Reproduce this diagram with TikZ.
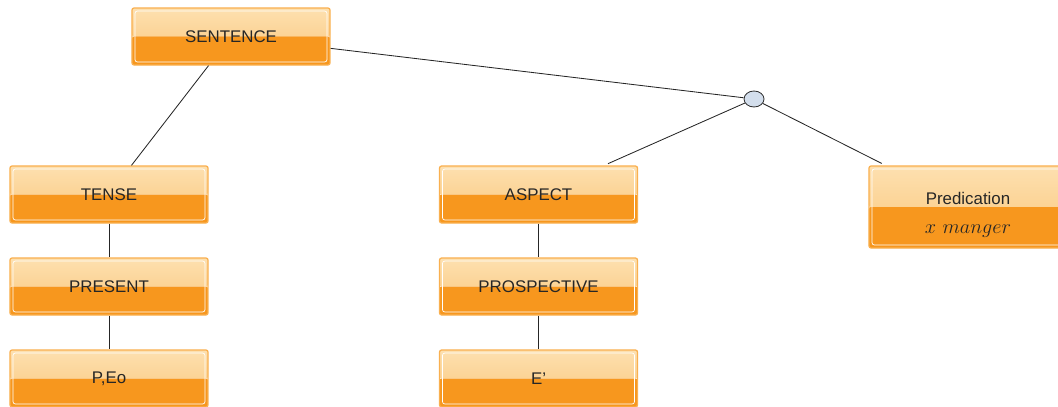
\documentclass[tikz,border=0pt]{standalone}
\usepackage{fontspec}
\setsansfont{Liberation Sans}
\usetikzlibrary{shapes.geometric}

\definecolor{boxedge}{HTML}{F9B050}
\definecolor{boxtop}{HTML}{FDE0B0}
\definecolor{boxmid}{HTML}{FBC679}
\definecolor{boxlow}{HTML}{F7971E}
\definecolor{knot}{HTML}{D3DEEC}

\tikzset{
    stage/.style={rectangle, draw=boxedge, line width=0.9pt, rounded corners=1.5pt,
        minimum width=4.95cm, minimum height=1.425cm, inner sep=0pt,
        font=\sffamily\fontsize{12}{14}\selectfont, text=black!85,
        path picture={
            \shade[top color=boxtop, bottom color=boxmid]
                (path picture bounding box.north west) rectangle (path picture bounding box.east);
            \fill[boxlow]
                (path picture bounding box.west) rectangle (path picture bounding box.south east);
            \draw[white, line width=0.5pt]
                ([shift={(2.2pt,-2.2pt)}]path picture bounding box.north west) rectangle
                ([shift={(-2.2pt,2.2pt)}]path picture bounding box.south east);
        }},
    branch/.style={draw=black!85, line width=0.6pt},
    joint/.style={ellipse, draw=black!80, fill=knot, line width=0.6pt,
        minimum width=0.5cm, minimum height=0.4cm, inner sep=0pt}
}

\begin{document}
\begin{tikzpicture}[x=0.025cm, y=-0.025cm]

    % frame of the picture
    \useasboundingbox (0,0) rectangle (1058,407);

    % top of the tree
    \node[stage] (sentence) at (231,36.5) {SENTENCE};
    \node[joint] (link) at (754,99) {};

    % tense column
    \node[stage] (tense) at (109,194.5) {TENSE};
    \node[stage] (present) at (109,286.5) {PRESENT};
    \node[stage] (pe) at (109,378.5) {P,Eo};

    % aspect column
    \node[stage] (aspect) at (538.5,194.5) {ASPECT};
    \node[stage] (prosp) at (538.5,286.5) {PROSPECTIVE};
    \node[stage] (eprime) at (538.5,378.5) {E'};

    % predication box (two lines)
    \node[stage, minimum height=2.05cm] (pred) at (968,207) {};
    \node[font=\sffamily\fontsize{12}{14}\selectfont, text=black!85] (predname) at (968,198) {Predication};
    \node[text=black!85, font=\fontsize{15}{17}\selectfont] (predterm) at (968,231) {$x\ manger$};

    % connectors
    \draw[branch] (sentence) -- (tense);
    \draw[branch] (sentence) -- (link);
    \draw[branch, shorten >=3pt] (link) -- (aspect);
    \draw[branch, shorten >=3pt] (link) -- (pred);
    \draw[branch] (tense) -- (present);
    \draw[branch] (present) -- (pe);
    \draw[branch] (aspect) -- (prosp);
    \draw[branch] (prosp) -- (eprime);

\end{tikzpicture}
\end{document}
